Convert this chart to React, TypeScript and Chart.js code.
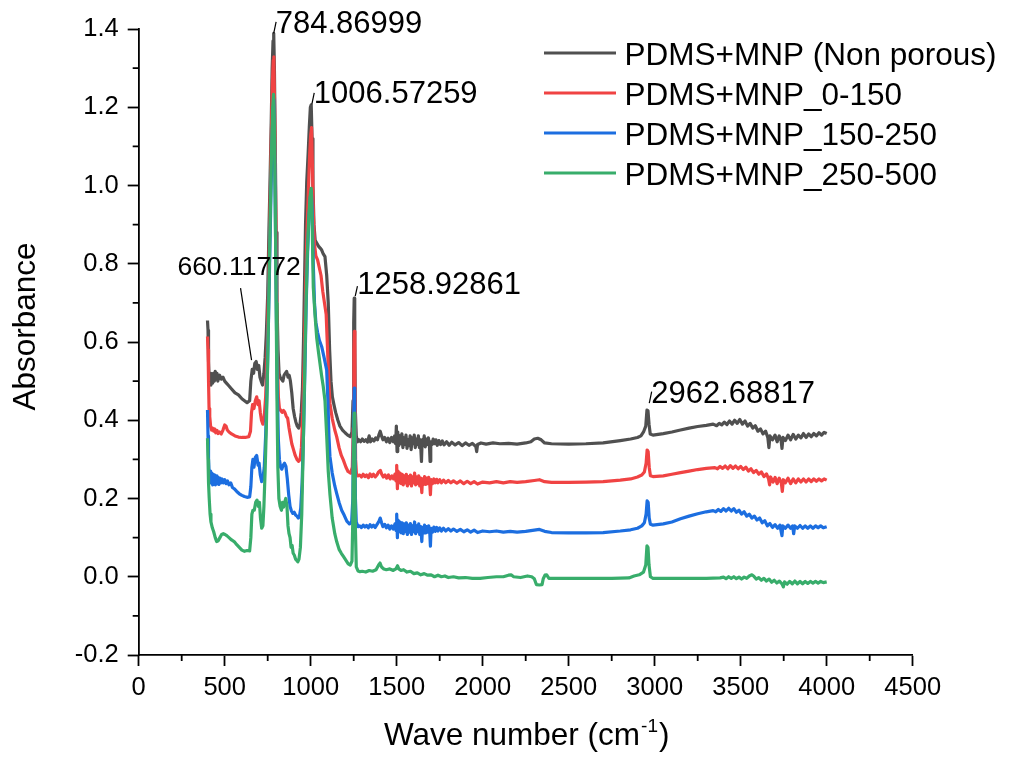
import React, { useEffect, useRef } from 'react';
import { Chart, registerables } from 'chart.js';

Chart.register(...registerables);

// ---------------- DATA ----------------
const seriesLabels = [
  'PDMS+MNP (Non porous)',
  'PDMS+MNP_0-150',
  'PDMS+MNP_150-250',
  'PDMS+MNP_250-500',
];
const seriesColors = ['#505050', '#f04343', '#1c6ee0', '#38ad6b'];

const xTickMin = 0;
const xTickMax = 4500;
const xTickStep = 500;
const yTickMin = -0.2;
const yTickMax = 1.4;
const yTickStep = 0.2;

const nonPorous: [number, number][] = [
  [400, 0.655], [403, 0.63], [406, 0.55], [410, 0.5], [415, 0.52], [420, 0.49], [425, 0.515], [430, 0.495],
  [435, 0.52], [440, 0.5], [445, 0.525], [450, 0.505], [455, 0.52], [460, 0.5], [470, 0.515], [480, 0.505],
  [490, 0.51], [500, 0.5], [510, 0.495], [520, 0.49], [540, 0.48], [560, 0.47], [580, 0.465], [600, 0.455],
  [615, 0.45], [630, 0.445], [645, 0.45], [652, 0.5], [660, 0.53], [668, 0.52], [675, 0.545], [683, 0.55],
  [690, 0.53], [698, 0.54], [705, 0.51], [712, 0.5], [720, 0.49], [728, 0.52], [735, 0.56], [742, 0.62],
  [750, 0.72], [757, 0.88], [763, 1.0], [770, 1.15], [776, 1.3], [781, 1.37], [785, 1.389], [789, 1.3],
  [794, 1.1], [799, 0.88], [804, 0.7], [810, 0.58], [816, 0.52], [822, 0.51], [830, 0.505], [838, 0.5],
  [845, 0.515], [852, 0.52], [860, 0.525], [868, 0.51], [875, 0.515], [882, 0.5], [890, 0.47], [898, 0.43],
  [906, 0.41], [914, 0.395], [922, 0.385], [930, 0.38], [938, 0.39], [945, 0.42], [952, 0.48], [958, 0.6],
  [964, 0.75], [970, 0.9], [977, 1.01], [985, 1.08], [992, 1.15], [998, 1.2], [1003, 1.206], [1008, 1.12],
  [1013, 1.0], [1019, 0.9], [1026, 0.86], [1035, 0.853], [1045, 0.845], [1055, 0.84], [1064, 0.835],
  [1073, 0.825], [1083, 0.818], [1093, 0.77], [1102, 0.7], [1110, 0.58], [1118, 0.5], [1126, 0.46],
  [1135, 0.44], [1145, 0.42], [1158, 0.4], [1170, 0.385], [1185, 0.375], [1200, 0.368], [1215, 0.362],
  [1230, 0.358], [1240, 0.37], [1246, 0.45], [1250, 0.65], [1253, 0.712], [1256, 0.6], [1260, 0.42],
  [1265, 0.36], [1272, 0.345],
  [1280, 0.35], [1290, 0.345], [1300, 0.352], [1310, 0.346], [1320, 0.35], [1330, 0.344], [1340, 0.36],
  [1348, 0.345], [1358, 0.352], [1368, 0.347], [1378, 0.355], [1388, 0.35], [1396, 0.362], [1404, 0.372],
  [1412, 0.36], [1420, 0.35], [1430, 0.356], [1440, 0.345], [1450, 0.354], [1460, 0.343], [1470, 0.356],
  [1480, 0.345], [1488, 0.36], [1494, 0.34], [1498, 0.385], [1502, 0.32], [1506, 0.37], [1512, 0.335],
  [1518, 0.36], [1524, 0.34], [1530, 0.365], [1536, 0.33], [1542, 0.355], [1548, 0.338], [1554, 0.362],
  [1560, 0.328], [1566, 0.35], [1572, 0.335], [1578, 0.36], [1584, 0.325], [1590, 0.355], [1596, 0.34],
  [1602, 0.362], [1608, 0.33], [1614, 0.352], [1620, 0.338], [1626, 0.36], [1632, 0.33], [1638, 0.35],
  [1644, 0.295], [1648, 0.35], [1654, 0.335], [1660, 0.36], [1666, 0.332], [1672, 0.352], [1678, 0.338],
  [1684, 0.355], [1690, 0.34], [1694, 0.295], [1698, 0.345], [1705, 0.338], [1712, 0.352], [1720, 0.34],
  [1728, 0.35], [1736, 0.336], [1745, 0.348], [1755, 0.338], [1765, 0.347], [1775, 0.337], [1790, 0.345],
  [1805, 0.336], [1820, 0.344], [1840, 0.337], [1860, 0.343], [1880, 0.335], [1900, 0.342], [1920, 0.336],
  [1940, 0.341], [1960, 0.333], [1965, 0.32], [1970, 0.338], [1990, 0.342], [2020, 0.339], [2060, 0.342],
  [2100, 0.34], [2150, 0.341], [2200, 0.339], [2250, 0.342], [2280, 0.345], [2300, 0.352], [2320, 0.354],
  [2340, 0.35], [2360, 0.342], [2400, 0.34], [2500, 0.339], [2600, 0.34], [2700, 0.342], [2800, 0.348],
  [2860, 0.352], [2900, 0.356], [2920, 0.36], [2935, 0.37], [2948, 0.385], [2955, 0.426], [2961, 0.424],
  [2967, 0.39], [2974, 0.365], [2990, 0.362], [3050, 0.366], [3100, 0.37], [3150, 0.375], [3200, 0.38],
  [3250, 0.384], [3300, 0.387], [3340, 0.39],
  [3360, 0.386], [3375, 0.392], [3390, 0.388], [3405, 0.395], [3420, 0.389], [3435, 0.398], [3450, 0.39],
  [3465, 0.4], [3480, 0.392], [3495, 0.402], [3510, 0.39], [3525, 0.398], [3540, 0.385], [3555, 0.392],
  [3570, 0.38], [3585, 0.386], [3600, 0.372], [3615, 0.378], [3630, 0.365], [3645, 0.372], [3658, 0.355],
  [3664, 0.33], [3670, 0.36], [3685, 0.35], [3700, 0.362], [3712, 0.345], [3724, 0.36], [3735, 0.348],
  [3740, 0.328], [3746, 0.356], [3760, 0.348], [3775, 0.362], [3790, 0.35], [3805, 0.364], [3820, 0.352],
  [3835, 0.362], [3850, 0.355], [3865, 0.366], [3880, 0.356], [3895, 0.365], [3910, 0.358], [3925, 0.366],
  [3940, 0.36], [3955, 0.368], [3970, 0.362], [3985, 0.369], [4000, 0.366],
];

const mnp0to150: [number, number][] = [
  [400, 0.614], [403, 0.58], [406, 0.5], [409, 0.43], [413, 0.41], [418, 0.385], [424, 0.375], [430, 0.38],
  [436, 0.372], [442, 0.378], [448, 0.368], [455, 0.374], [462, 0.366], [470, 0.37], [480, 0.365], [490, 0.375],
  [500, 0.388], [508, 0.385], [515, 0.375], [525, 0.37], [540, 0.365], [560, 0.36], [580, 0.357], [600, 0.356],
  [620, 0.356], [640, 0.358], [650, 0.372], [656, 0.42], [662, 0.44], [670, 0.43], [678, 0.45], [686, 0.46],
  [694, 0.44], [700, 0.45], [707, 0.42], [714, 0.4], [722, 0.39], [730, 0.41], [738, 0.46], [746, 0.56],
  [754, 0.72], [762, 0.9], [770, 1.1], [777, 1.26], [782, 1.32], [786, 1.329], [790, 1.2], [795, 1.0],
  [800, 0.78], [806, 0.58], [812, 0.46], [818, 0.43], [826, 0.425], [834, 0.42], [842, 0.425], [850, 0.42],
  [858, 0.41], [866, 0.405], [874, 0.38], [882, 0.36], [890, 0.34], [900, 0.325], [910, 0.31], [920, 0.3],
  [930, 0.295], [938, 0.3], [946, 0.33], [954, 0.42], [962, 0.55], [970, 0.72], [978, 0.88], [986, 0.98],
  [994, 1.08], [1000, 1.13], [1005, 1.148], [1010, 1.05], [1016, 0.92], [1022, 0.85], [1030, 0.82],
  [1040, 0.81], [1050, 0.79], [1060, 0.77], [1070, 0.73], [1080, 0.7], [1090, 0.67], [1098, 0.58],
  [1105, 0.5], [1112, 0.443], [1125, 0.405], [1140, 0.375], [1151, 0.358], [1165, 0.33], [1178, 0.31],
  [1190, 0.298], [1205, 0.28], [1217, 0.269], [1232, 0.265], [1242, 0.28], [1247, 0.38], [1251, 0.58],
  [1254, 0.627], [1257, 0.5], [1261, 0.3], [1266, 0.262], [1275, 0.258],
  [1285, 0.26], [1295, 0.255], [1305, 0.262], [1315, 0.256], [1325, 0.26], [1335, 0.253], [1345, 0.263],
  [1355, 0.256], [1365, 0.262], [1375, 0.255], [1385, 0.26], [1395, 0.268], [1405, 0.272], [1413, 0.262],
  [1422, 0.255], [1432, 0.26], [1442, 0.252], [1452, 0.26], [1462, 0.25], [1472, 0.258], [1482, 0.25],
  [1490, 0.262], [1496, 0.245], [1500, 0.285], [1504, 0.225], [1508, 0.27], [1514, 0.24], [1520, 0.265],
  [1526, 0.238], [1532, 0.262], [1538, 0.235], [1544, 0.258], [1550, 0.24], [1556, 0.262], [1562, 0.232],
  [1568, 0.256], [1574, 0.238], [1580, 0.26], [1586, 0.232], [1592, 0.255], [1598, 0.24], [1604, 0.265],
  [1610, 0.235], [1616, 0.255], [1622, 0.238], [1628, 0.258], [1634, 0.232], [1640, 0.252], [1646, 0.215],
  [1650, 0.25], [1656, 0.236], [1662, 0.256], [1668, 0.236], [1674, 0.252], [1680, 0.238], [1686, 0.254],
  [1692, 0.24], [1696, 0.21], [1700, 0.248], [1708, 0.238], [1716, 0.25], [1724, 0.24], [1732, 0.249],
  [1740, 0.24], [1750, 0.248], [1760, 0.24], [1772, 0.247], [1785, 0.24], [1800, 0.246], [1815, 0.24],
  [1830, 0.245], [1850, 0.239], [1870, 0.245], [1890, 0.238], [1910, 0.244], [1930, 0.238], [1950, 0.243],
  [1970, 0.237], [2000, 0.242], [2040, 0.24], [2080, 0.243], [2120, 0.24], [2160, 0.243], [2200, 0.241],
  [2250, 0.243], [2300, 0.246], [2330, 0.248], [2360, 0.243], [2400, 0.241], [2500, 0.241], [2600, 0.242],
  [2700, 0.243], [2800, 0.247], [2860, 0.25], [2900, 0.255], [2925, 0.26], [2940, 0.268], [2950, 0.29],
  [2956, 0.324], [2962, 0.32], [2968, 0.28], [2975, 0.258], [2990, 0.256], [3050, 0.258], [3100, 0.262],
  [3150, 0.266], [3200, 0.27], [3250, 0.274], [3300, 0.277], [3350, 0.279],
  [3365, 0.276], [3380, 0.282], [3395, 0.277], [3410, 0.283], [3425, 0.276], [3440, 0.284], [3455, 0.277],
  [3470, 0.283], [3485, 0.276], [3500, 0.282], [3515, 0.274], [3530, 0.28], [3545, 0.27], [3560, 0.276],
  [3575, 0.266], [3590, 0.272], [3605, 0.262], [3620, 0.268], [3635, 0.256], [3650, 0.263], [3662, 0.25],
  [3668, 0.235], [3674, 0.255], [3688, 0.242], [3700, 0.254], [3712, 0.238], [3724, 0.252], [3736, 0.24],
  [3742, 0.218], [3748, 0.248], [3760, 0.24], [3775, 0.252], [3790, 0.238], [3805, 0.25], [3820, 0.24],
  [3835, 0.25], [3850, 0.242], [3865, 0.25], [3880, 0.242], [3895, 0.25], [3910, 0.243], [3925, 0.25],
  [3940, 0.244], [3955, 0.25], [3970, 0.245], [3985, 0.25], [4000, 0.247],
];

const mnp150to250: [number, number][] = [
  [400, 0.426], [403, 0.36], [406, 0.3], [410, 0.26], [414, 0.24], [418, 0.27], [422, 0.24], [426, 0.265],
  [430, 0.235], [434, 0.262], [438, 0.238], [442, 0.26], [446, 0.235], [450, 0.258], [455, 0.238], [460, 0.255],
  [466, 0.236], [472, 0.252], [478, 0.24], [485, 0.25], [492, 0.24], [500, 0.248], [508, 0.238], [516, 0.245],
  [525, 0.235], [535, 0.24], [545, 0.228], [555, 0.225], [570, 0.218], [585, 0.212], [600, 0.208], [615, 0.205],
  [630, 0.203], [645, 0.204], [652, 0.23], [658, 0.28], [664, 0.3], [670, 0.28], [678, 0.305], [686, 0.31],
  [694, 0.285], [700, 0.29], [707, 0.26], [715, 0.243], [722, 0.25], [730, 0.28], [738, 0.36], [746, 0.48],
  [754, 0.64], [762, 0.82], [770, 1.0], [777, 1.14], [782, 1.2], [786, 1.22], [790, 1.1], [795, 0.9],
  [800, 0.68], [806, 0.48], [812, 0.35], [818, 0.3], [825, 0.28], [832, 0.275], [840, 0.285], [848, 0.29],
  [856, 0.282], [864, 0.25], [872, 0.21], [880, 0.18], [888, 0.168], [896, 0.162], [904, 0.165], [912, 0.158],
  [920, 0.155], [928, 0.15], [935, 0.155], [942, 0.175], [950, 0.24], [958, 0.36], [966, 0.52], [974, 0.7],
  [982, 0.83], [990, 0.92], [998, 0.97], [1004, 0.985], [1009, 0.93], [1015, 0.8], [1022, 0.7], [1030, 0.65],
  [1040, 0.625], [1050, 0.605], [1064, 0.588], [1078, 0.56], [1093, 0.528], [1100, 0.45], [1106, 0.36],
  [1112, 0.307], [1125, 0.265], [1140, 0.232], [1151, 0.213], [1165, 0.19], [1180, 0.17], [1195, 0.157],
  [1210, 0.142], [1225, 0.135], [1238, 0.14], [1245, 0.2], [1249, 0.38], [1253, 0.482], [1256, 0.4],
  [1260, 0.2], [1265, 0.14], [1275, 0.128],
  [1285, 0.13], [1295, 0.126], [1305, 0.132], [1315, 0.127], [1325, 0.131], [1335, 0.125], [1345, 0.133],
  [1355, 0.127], [1365, 0.132], [1375, 0.126], [1385, 0.133], [1395, 0.14], [1404, 0.15], [1412, 0.138],
  [1420, 0.128], [1430, 0.134], [1440, 0.125], [1450, 0.132], [1460, 0.122], [1470, 0.13], [1480, 0.122],
  [1490, 0.135], [1496, 0.118], [1500, 0.16], [1504, 0.1], [1508, 0.145], [1514, 0.115], [1520, 0.14],
  [1526, 0.112], [1532, 0.138], [1538, 0.11], [1544, 0.135], [1550, 0.115], [1556, 0.138], [1562, 0.108],
  [1568, 0.132], [1574, 0.114], [1580, 0.136], [1586, 0.108], [1592, 0.13], [1598, 0.115], [1604, 0.14],
  [1610, 0.11], [1616, 0.13], [1622, 0.115], [1628, 0.135], [1634, 0.108], [1640, 0.128], [1646, 0.09],
  [1650, 0.126], [1656, 0.112], [1662, 0.132], [1668, 0.112], [1674, 0.128], [1680, 0.114], [1686, 0.13],
  [1692, 0.116], [1696, 0.078], [1700, 0.124], [1708, 0.114], [1716, 0.127], [1724, 0.116], [1732, 0.126],
  [1740, 0.117], [1750, 0.125], [1760, 0.117], [1772, 0.124], [1785, 0.117], [1800, 0.123], [1815, 0.117],
  [1830, 0.122], [1850, 0.116], [1870, 0.121], [1890, 0.115], [1910, 0.12], [1930, 0.114], [1950, 0.119],
  [1970, 0.113], [2000, 0.117], [2040, 0.115], [2080, 0.117], [2120, 0.114], [2160, 0.116], [2200, 0.114],
  [2250, 0.116], [2300, 0.119], [2330, 0.121], [2360, 0.116], [2400, 0.113], [2500, 0.112], [2600, 0.112],
  [2700, 0.113], [2800, 0.117], [2860, 0.12], [2900, 0.124], [2925, 0.13], [2940, 0.138], [2950, 0.16],
  [2956, 0.194], [2962, 0.19], [2968, 0.15], [2975, 0.134], [2990, 0.132], [3050, 0.135], [3100, 0.14],
  [3150, 0.148], [3200, 0.155], [3250, 0.161], [3300, 0.166], [3340, 0.169],
  [3355, 0.166], [3370, 0.172], [3385, 0.167], [3400, 0.174], [3415, 0.168], [3430, 0.175], [3445, 0.168],
  [3460, 0.174], [3475, 0.165], [3490, 0.17], [3505, 0.16], [3520, 0.166], [3535, 0.155], [3550, 0.16],
  [3565, 0.15], [3580, 0.155], [3595, 0.145], [3610, 0.15], [3625, 0.138], [3640, 0.143], [3655, 0.13],
  [3670, 0.136], [3685, 0.126], [3700, 0.133], [3715, 0.124], [3728, 0.132], [3740, 0.105], [3745, 0.13],
  [3760, 0.124], [3775, 0.132], [3790, 0.124], [3802, 0.13], [3808, 0.11], [3814, 0.13], [3830, 0.124],
  [3845, 0.131], [3860, 0.124], [3875, 0.13], [3890, 0.124], [3905, 0.13], [3920, 0.124], [3935, 0.13],
  [3950, 0.125], [3965, 0.13], [3980, 0.125], [4000, 0.128],
];

const mnp250to500: [number, number][] = [
  [400, 0.354], [403, 0.3], [406, 0.24], [410, 0.2], [415, 0.16], [420, 0.14], [428, 0.125], [436, 0.115],
  [445, 0.1], [453, 0.09], [462, 0.092], [472, 0.1], [482, 0.108], [492, 0.11], [502, 0.108], [512, 0.105],
  [525, 0.1], [540, 0.094], [555, 0.09], [570, 0.082], [585, 0.075], [600, 0.068], [615, 0.065], [630, 0.067],
  [645, 0.066], [652, 0.1], [658, 0.16], [664, 0.17], [672, 0.17], [680, 0.19], [688, 0.196], [696, 0.18],
  [702, 0.19], [708, 0.15], [715, 0.124], [722, 0.13], [728, 0.18], [735, 0.27], [742, 0.38], [750, 0.55],
  [758, 0.75], [766, 0.95], [773, 1.1], [779, 1.2], [784, 1.233], [789, 1.15], [794, 0.95], [799, 0.7],
  [804, 0.45], [809, 0.28], [815, 0.2], [822, 0.18], [830, 0.17], [836, 0.19], [842, 0.178], [848, 0.19],
  [855, 0.2], [862, 0.18], [868, 0.13], [874, 0.11], [880, 0.1], [886, 0.075], [892, 0.08], [898, 0.06],
  [905, 0.055], [912, 0.045], [918, 0.042], [925, 0.038], [932, 0.045], [940, 0.075], [948, 0.16], [956, 0.32],
  [964, 0.5], [972, 0.68], [980, 0.82], [988, 0.91], [996, 0.97], [1003, 0.993], [1008, 0.92], [1015, 0.74],
  [1025, 0.67], [1035, 0.61], [1045, 0.575], [1054, 0.545], [1063, 0.515], [1073, 0.486], [1083, 0.45],
  [1093, 0.36], [1102, 0.27], [1112, 0.21], [1125, 0.15], [1140, 0.11], [1151, 0.09], [1165, 0.07],
  [1178, 0.06], [1190, 0.052], [1205, 0.042], [1218, 0.033], [1230, 0.03], [1240, 0.04], [1245, 0.15],
  [1249, 0.35], [1253, 0.418], [1256, 0.35], [1260, 0.12], [1265, 0.025], [1275, 0.015],
  [1287, 0.013], [1300, 0.014], [1320, 0.012], [1340, 0.016], [1360, 0.014], [1380, 0.018], [1395, 0.03],
  [1403, 0.035], [1412, 0.025], [1425, 0.02], [1440, 0.018], [1460, 0.02], [1480, 0.016], [1495, 0.02],
  [1505, 0.028], [1512, 0.02], [1525, 0.016], [1540, 0.018], [1560, 0.012], [1580, 0.014], [1600, 0.008],
  [1620, 0.01], [1640, 0.005], [1660, 0.008], [1680, 0.004], [1700, 0.005], [1720, 0.0], [1740, 0.004],
  [1760, 0.0], [1780, 0.002], [1800, -0.002], [1830, 0.0], [1860, -0.003], [1900, -0.002], [1940, -0.004],
  [1985, -0.004], [2030, -0.002], [2080, 0.0], [2120, 0.0], [2150, 0.004], [2165, 0.005], [2180, 0.0],
  [2220, -0.002], [2260, 0.002], [2285, 0.0], [2300, -0.005], [2312, -0.02], [2330, -0.021], [2345, -0.02],
  [2352, -0.005], [2362, 0.004], [2372, 0.005], [2385, -0.004], [2450, -0.004], [2550, -0.004],
  [2650, -0.004], [2750, -0.004], [2850, -0.003], [2880, 0.002], [2910, 0.005], [2935, 0.012], [2948, 0.03],
  [2955, 0.079], [2961, 0.075], [2967, 0.03], [2975, 0.0], [2990, -0.004], [3100, -0.004], [3200, -0.004],
  [3300, -0.004], [3380, -0.003],
  [3400, -0.001], [3415, -0.005], [3430, 0.0], [3445, -0.004], [3460, 0.0], [3475, -0.005], [3490, -0.001],
  [3505, -0.006], [3520, -0.001], [3535, -0.004], [3550, 0.002], [3565, 0.005], [3575, 0.002], [3590, -0.006],
  [3605, -0.002], [3620, -0.009], [3635, -0.004], [3650, -0.011], [3665, -0.006], [3680, -0.014],
  [3695, -0.009], [3710, -0.016], [3725, -0.011], [3740, -0.018], [3748, -0.026], [3755, -0.013],
  [3770, -0.019], [3785, -0.012], [3800, -0.018], [3815, -0.011], [3830, -0.018], [3845, -0.012],
  [3860, -0.018], [3875, -0.012], [3890, -0.017], [3905, -0.012], [3920, -0.016], [3935, -0.012],
  [3950, -0.016], [3965, -0.012], [3980, -0.015], [4000, -0.013],
];

const seriesData = [nonPorous, mnp0to150, mnp150to250, mnp250to500];

// Peak annotations (wave number, absorbance of the marked point, label text)
const peakX = [660.11772, 784.86999, 1006.57259, 1258.92861, 2962.68817];
const peakY = [0.55, 1.389, 1.206, 0.712, 0.426];
const peakText = ['660.11772', '784.86999', '1006.57259', '1258.92861', '2962.68817'];

// ---------------- STYLE ----------------
const FONT = "'Liberation Sans', Arial, Helvetica, sans-serif";
const W = 1011;
const H = 757;

// leader line / text offsets in pixels relative to the marked point
const peakStyle = [
  { size: 26.5, l1: [-0.7, -1.5], l2: [-11.7, -73.5], t: [-13.2, -86.5], align: 'center' },
  { size: 31, l1: [0, 0], l2: [2.4, -11.5], t: [2, 0], align: 'left' },
  { size: 31, l1: [0, -0.5], l2: [2.4, -12], t: [2, -1.5], align: 'left' },
  { size: 31, l1: [0, -2], l2: [2.2, -12], t: [2, -4.5], align: 'left' },
  { size: 31, l1: [1, -7], l2: [3.4, -18.5], t: [3, -7], align: 'left' },
];

const decorPlugin = {
  id: 'decor',
  afterDraw(chart: any) {
    const ctx = chart.ctx as CanvasRenderingContext2D;
    const xs = chart.scales.x;
    const ys = chart.scales.y;
    const area = chart.chartArea;
    ctx.save();
    // minor ticks
    ctx.strokeStyle = '#000';
    ctx.lineWidth = 1.8;
    ctx.beginPath();
    for (let v = xTickMin + xTickStep / 2; v < xTickMax; v += xTickStep) {
      const px = xs.getPixelForValue(v);
      ctx.moveTo(px, area.bottom);
      ctx.lineTo(px, area.bottom + 6);
    }
    for (let i = 0; i < Math.round((yTickMax - yTickMin) / yTickStep); i++) {
      const v = yTickMin + yTickStep * i + yTickStep / 2;
      const py = ys.getPixelForValue(v);
      ctx.moveTo(area.left - 6, py);
      ctx.lineTo(area.left, py);
    }
    ctx.stroke();

    // peak annotations
    ctx.fillStyle = '#000';
    ctx.lineWidth = 1.2;
    ctx.textBaseline = 'alphabetic';
    for (let i = 0; i < peakX.length; i++) {
      const st = peakStyle[i];
      const px = xs.getPixelForValue(peakX[i]);
      const py = ys.getPixelForValue(peakY[i]);
      ctx.beginPath();
      ctx.moveTo(px + st.l1[0], py + st.l1[1]);
      ctx.lineTo(px + st.l2[0], py + st.l2[1]);
      ctx.stroke();
      ctx.font = `${st.size}px ${FONT}`;
      ctx.textAlign = st.align as CanvasTextAlign;
      ctx.fillText(peakText[i], px + st.t[0], py + st.t[1]);
    }

    // legend
    ctx.textAlign = 'left';
    ctx.font = `31.5px ${FONT}`;
    for (let i = 0; i < seriesLabels.length; i++) {
      const y = 53 + i * 40;
      ctx.strokeStyle = seriesColors[i];
      ctx.lineWidth = 3.2;
      ctx.beginPath();
      ctx.moveTo(544, y);
      ctx.lineTo(616, y);
      ctx.stroke();
      ctx.fillStyle = '#000';
      ctx.fillText(seriesLabels[i], 624.5, y + 12);
    }

    // x axis title with superscript
    const mainTxt = 'Wave number (cm';
    const supTxt = '-1';
    const closeTxt = ')';
    ctx.font = `31.5px ${FONT}`;
    const w1 = ctx.measureText(mainTxt).width;
    const w3 = ctx.measureText(closeTxt).width;
    ctx.font = `19px ${FONT}`;
    const w2 = ctx.measureText(supTxt).width;
    const total = w1 + w2 + 2 + w3;
    const cx = (area.left + area.right) / 2 + 1;
    const x0 = cx - total / 2;
    const base = 745;
    ctx.font = `31.5px ${FONT}`;
    ctx.fillText(mainTxt, x0, base);
    ctx.font = `19px ${FONT}`;
    ctx.fillText(supTxt, x0 + w1 + 1, base - 13.5);
    ctx.font = `31.5px ${FONT}`;
    ctx.fillText(closeTxt, x0 + w1 + w2 + 2, base);

    // y axis title
    ctx.save();
    ctx.translate(35, 326.5);
    ctx.rotate(-Math.PI / 2);
    ctx.textAlign = 'center';
    ctx.font = `31.5px ${FONT}`;
    ctx.fillText('Absorbance', 0, 0);
    ctx.restore();

    ctx.restore();
  },
};

export default function App() {
  const canvasRef = useRef<HTMLCanvasElement | null>(null);

  useEffect(() => {
    document.body.style.margin = '0';
    const canvas = canvasRef.current;
    if (!canvas) return;
    const order = [3, 2, 1, 0];
    const chart = new Chart(canvas, {
      type: 'line',
      data: {
        datasets: seriesData.map((d, i) => ({
          label: seriesLabels[i],
          data: d as any,
          borderColor: seriesColors[i],
          backgroundColor: seriesColors[i],
          borderWidth: 3.2,
          pointRadius: 0,
          tension: 0,
          fill: false,
          borderJoinStyle: 'round' as const,
          order: order[i],
        })),
      },
      options: {
        responsive: false,
        animation: false,
        devicePixelRatio: 1,
        layout: { padding: { top: 29, right: 98.3, left: 0, bottom: 0 } },
        plugins: {
          legend: { display: false },
          tooltip: { enabled: false },
        },
        scales: {
          x: {
            type: 'linear',
            min: xTickMin,
            max: xTickMax,
            afterFit: (scale: any) => {
              scale.height = 102;
            },
            ticks: {
              stepSize: xTickStep,
              color: '#000',
              font: { family: FONT, size: 25.5 },
              padding: 7,
              maxRotation: 0,
              autoSkip: false,
              callback: (v: any) => String(Math.round(Number(v))),
            },
            grid: {
              display: true,
              drawOnChartArea: false,
              drawTicks: true,
              tickLength: 11,
              tickWidth: 1.8,
              tickColor: '#000',
            },
            border: { display: true, color: '#000', width: 1.8 },
          },
          y: {
            type: 'linear',
            min: yTickMin,
            max: yTickMax,
            afterFit: (scale: any) => {
              scale.width = 138.7;
            },
            ticks: {
              stepSize: yTickStep,
              color: '#000',
              font: { family: FONT, size: 25.5 },
              padding: 9,
              callback: (v: any) => {
                const n = Number(v);
                return (Math.abs(n) < 1e-9 ? 0 : n).toFixed(1);
              },
            },
            grid: {
              display: true,
              drawOnChartArea: false,
              drawTicks: true,
              tickLength: 11,
              tickWidth: 1.8,
              tickColor: '#000',
            },
            border: { display: true, color: '#000', width: 1.8 },
          },
        },
      },
      plugins: [decorPlugin],
    });
    return () => {
      chart.destroy();
    };
  }, []);

  return (
    <div style={{ width: W, height: H, background: '#fff' }}>
      <canvas ref={canvasRef} width={W} height={H} style={{ display: 'block' }} />
    </div>
  );
}
